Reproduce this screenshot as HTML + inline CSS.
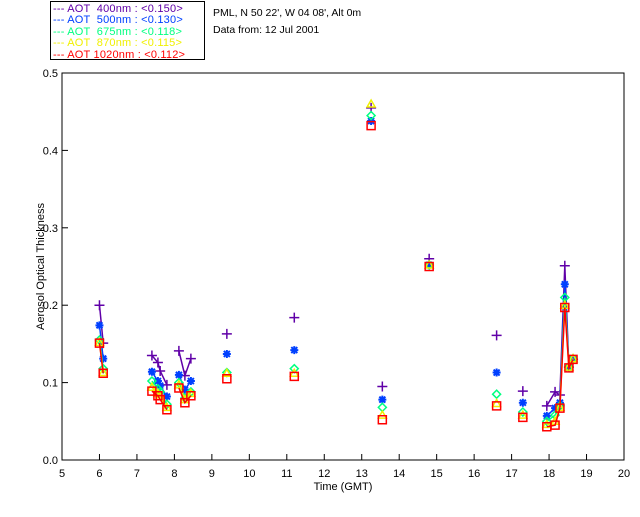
<!DOCTYPE html>
<html><head><meta charset="utf-8"><style>
body{margin:0;background:#fff;width:640px;height:512px;overflow:hidden}
svg text{font-family:"Liberation Sans",sans-serif;font-size:11px}
.lg div{height:11.4px;white-space:nowrap}
</style></head><body>
<svg id="c" width="640" height="512"></svg>
<script>
const times=[6.0,6.1,7.4,7.56,7.62,7.8,8.12,8.28,8.44,9.4,11.2,13.25,13.55,14.8,16.6,17.3,17.94,18.16,18.29,18.42,18.53,18.64];
const aot400=[0.200,0.151,0.135,0.126,0.115,0.097,0.141,0.109,0.131,0.163,0.184,0.455,0.095,0.260,0.161,0.089,0.070,0.088,0.084,0.251,0.120,0.130];
const aot500=[0.174,0.131,0.114,0.102,0.096,0.082,0.110,0.091,0.102,0.137,0.142,0.438,0.078,0.252,0.113,0.074,0.057,0.067,0.074,0.227,0.119,0.131];
const aot675=[0.155,0.118,0.102,0.092,0.088,0.072,0.100,0.080,0.088,0.113,0.118,0.445,0.068,0.252,0.085,0.062,0.050,0.058,0.070,0.210,0.120,0.131];
const aot870=[0.152,0.113,0.094,0.086,0.082,0.068,0.097,0.078,0.086,0.112,0.112,0.460,0.058,0.252,0.073,0.058,0.046,0.050,0.068,0.200,0.120,0.131];
const aot1020=[0.151,0.112,0.089,0.083,0.078,0.065,0.093,0.074,0.083,0.105,0.108,0.432,0.052,0.250,0.070,0.055,0.043,0.045,0.067,0.197,0.119,0.130];
const xTicks=[5,6,7,8,9,10,11,12,13,14,15,16,17,18,19,20];
const yTicks=[0.0,0.1,0.2,0.3,0.4,0.5];
const series=[
 {name:'400',vals:aot400,color:'#6000a8',mk:'plus'},
 {name:'500',vals:aot500,color:'#0040ff',mk:'star'},
 {name:'675',vals:aot675,color:'#00ff80',mk:'diamond'},
 {name:'870',vals:aot870,color:'#f0f000',mk:'tri'},
 {name:'1020',vals:aot1020,color:'#ff0000',mk:'square'}];
const L=62,R=624,T=73,B=460;
const X=t=>L+(t-5)/15*(R-L);
const Y=v=>B-v/0.5*(B-T);
const svg=document.getElementById('c');
const NS='http://www.w3.org/2000/svg';
function mk(tag,a,parent){const e=document.createElementNS(NS,tag);for(const k in a)e.setAttribute(k,a[k]);(parent||svg).appendChild(e);return e;}
let e=mk('rect',{x:L,y:T,width:R-L,height:B-T,fill:'none',stroke:'#000'});


xTicks.forEach(t=>{
 let l=mk('line',{x1:X(t),x2:X(t),y1:B,y2:B-6,stroke:'#000'});
 
 
 let tx=mk('text',{x:X(t),y:B+17,'text-anchor':'middle','font-size':'10.5'});tx.textContent=t;
 
 
});
yTicks.forEach(v=>{
 let l=mk('line',{x1:L,x2:L+6,y1:Y(v),y2:Y(v),stroke:'#000'});
 
 
 let tx=mk('text',{x:L-4,y:Y(v)+4,'text-anchor':'end','font-size':'10.5'});tx.textContent=v.toFixed(1);
 
 
});
let xt=mk('text',{x:(L+R)/2,y:490,'text-anchor':'middle','font-size':'10.5'});xt.textContent='Time (GMT)';


let yt=mk('text',{x:0,y:0,'text-anchor':'middle',transform:'translate(44,'+((T+B)/2)+') rotate(-90)','font-size':'10'});yt.textContent='Aerosol Optical Thickness';


function marker(type,x,y,c){
 let d;
 if(type==='plus')d=`M${x-5},${y}H${x+5}M${x},${y-5}V${y+5}`;
 else if(type==='star')d=`M${x-4},${y}H${x+4}M${x},${y-4}V${y+4}M${x-3},${y-3}L${x+3},${y+3}M${x-3},${y+3}L${x+3},${y-3}`;
 else if(type==='diamond')d=`M${x},${y-4}L${x+4},${y}L${x},${y+4}L${x-4},${y}Z`;
 else if(type==='tri')d=`M${x},${y-4}L${x+4},${y+3}L${x-4},${y+3}Z`;
 else d=`M${x-4},${y-4}H${x+4}V${y+4}H${x-4}Z`;
 return mk('path',{d:d,stroke:c,fill:'none','stroke-width':type==='star'?2:1.5});
}
series.forEach(s=>{
 let d='';
 times.forEach((t,i)=>{
  const cmd=(i>0&&t-times[i-1]<0.25)?'L':'M';
  d+=cmd+X(t).toFixed(1)+','+Y(s.vals[i]).toFixed(1);
 });
 let p=mk('path',{d:d,stroke:s.color,fill:'none','stroke-width':1.5});
 
 
 times.forEach((t,i)=>{
  let m=marker(s.mk,X(t),Y(s.vals[i]),s.color);
  
  
 });
});
</script>
<div class="lg" style="position:absolute;left:50px;top:1px;width:155px;height:59px;border:1px solid #000;font:11px 'Liberation Sans',sans-serif;line-height:11.4px;padding:2px 0 0 2px;box-sizing:border-box;letter-spacing:0.2px"><div style="color:#6000a8">--- AOT &nbsp;400nm : &lt;0.150&gt;</div><div style="color:#0040ff">--- AOT &nbsp;500nm : &lt;0.130&gt;</div><div style="color:#00ff80">--- AOT &nbsp;675nm : &lt;0.118&gt;</div><div style="color:#f0f000">--- AOT &nbsp;870nm : &lt;0.115&gt;</div><div style="color:#ff0000">--- AOT 1020nm : &lt;0.112&gt;</div></div>
<div style="position:absolute;left:213px;top:5px;font:10.5px 'Liberation Sans',sans-serif;line-height:17px">PML, N 50 22', W 04 08', Alt 0m<br>Data from: 12 Jul 2001</div>
</body></html>
